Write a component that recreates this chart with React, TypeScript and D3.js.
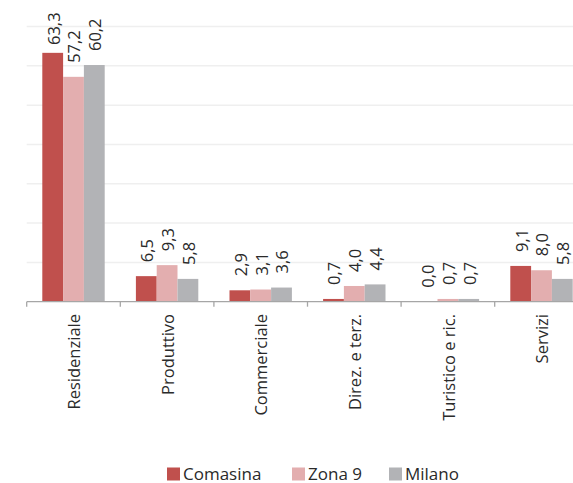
import React from "react";
import * as d3 from "d3";

const categories = ["Residenziale", "Produttivo", "Commerciale", "Direz. e terz.", "Turistico e ric.", "Servizi"];
const seriesNames = ["Comasina", "Zona 9", "Milano"];
const comasina = [63.3, 6.5, 2.9, 0.7, 0.0, 9.1];
const zona9 = [57.2, 9.3, 3.1, 4.0, 0.7, 8.0];
const milano = [60.2, 5.8, 3.6, 4.4, 0.7, 5.8];
const yTicks = [10, 20, 30, 40, 50, 60, 70];
const colors = ["#C0504D", "#E3AEAF", "#B2B3B6"];

const W = 573;
const H = 483;
const FONT = "'Open Sans', sans-serif";
const TEXT = "#2a2a2a";

export default function App() {
  const series = [comasina, zona9, milano];
  const plotLeft = 26.7;
  const step = 93.6;
  const x = d3
    .scaleBand<string>()
    .domain(categories)
    .range([plotLeft, plotLeft + step * categories.length])
    .paddingInner(0)
    .paddingOuter(0);
  const inner = d3
    .scaleBand<string>()
    .domain(seriesNames)
    .range([0, x.bandwidth()])
    .paddingInner(0)
    .paddingOuter(0.75);
  const y = d3.scaleLinear().domain([0, 70]).range([301.7, 26.5]);
  const fmt = (v: number) => v.toFixed(1).replace(".", ",");

  const legendItems = [
    { name: seriesNames[0], x: 167 },
    { name: seriesNames[1], x: 292 },
    { name: seriesNames[2], x: 389 },
  ];

  return (
    <svg
      width={W}
      height={H}
      style={{ position: "absolute", left: 0, top: 0, background: "#fff" }}
      fontFamily={FONT}
    >
      {yTicks.map((t) => (
        <line key={t} x1={plotLeft} x2={W} y1={y(t)} y2={y(t)} stroke="#EFEFEF" strokeWidth={1.5} />
      ))}
      {categories.map((c, ci) =>
        series.map((s, si) => {
          const bx = (x(c) as number) + (inner(seriesNames[si]) as number);
          const bw = inner.bandwidth();
          const top = y(s[ci]);
          return (
            <rect
              key={c + si}
              x={bx}
              y={top}
              width={bw}
              height={y(0) - top}
              fill={colors[si]}
            />
          );
        })
      )}
      <line x1={plotLeft} x2={W} y1={y(0)} y2={y(0)} stroke="#A6A6A6" strokeWidth={1.3} />
      {categories.map((c) => (
        <line
          key={"t" + c}
          x1={x(c) as number}
          x2={x(c) as number}
          y1={y(0)}
          y2={y(0) + 5}
          stroke="#A6A6A6"
          strokeWidth={1.3}
        />
      ))}
      {categories.map((c, ci) =>
        series.map((s, si) => {
          const cx = (x(c) as number) + (inner(seriesNames[si]) as number) + inner.bandwidth() / 2;
          const ly = Math.max(y(s[ci]) - 14, 45);
          return (
            <text
              key={"l" + c + si}
              transform={`translate(${cx},${ly}) rotate(-90)`}
              dy="0.42em"
              fontSize={16.5}
              fill={TEXT}
              textAnchor="start"
            >
              {fmt(s[ci])}
            </text>
          );
        })
      )}
      {categories.map((c) => {
        const cx = (x(c) as number) + x.bandwidth() / 2;
        return (
          <text
            key={"c" + c}
            transform={`translate(${cx + 1},${314}) rotate(-90)`}
            dy="0.35em"
            fontSize={16.5}
            fill={TEXT}
            textAnchor="end"
          >
            {c}
          </text>
        );
      })}
      {legendItems.map((it, i) => (
        <g key={it.name}>
          <rect x={it.x} y={467.5} width={13} height={13} fill={colors[i]} />
          <text x={it.x + 16} y={479.5} fontSize={17} fill={TEXT}>
            {it.name}
          </text>
        </g>
      ))}
    </svg>
  );
}
